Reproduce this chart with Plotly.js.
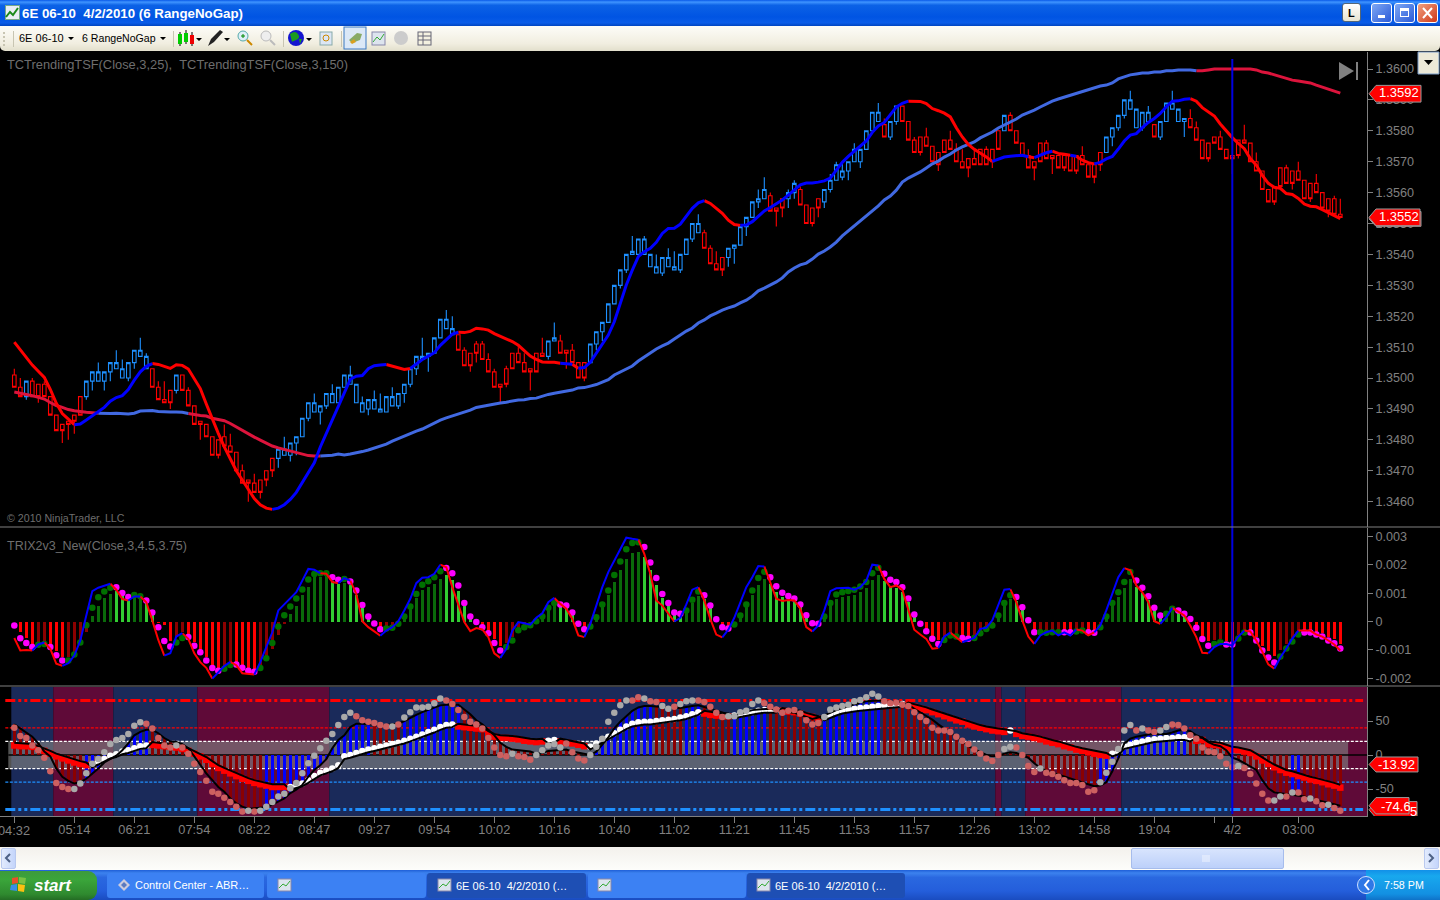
<!DOCTYPE html>
<html><head><meta charset="utf-8"><title>6E 06-10</title>
<script src="https://cdn.plot.ly/plotly-3.0.1.min.js"></script>
<style>
html,body{margin:0;padding:0;background:#000;overflow:hidden;width:1440px;height:900px}
.c{position:absolute}
#plot{position:absolute;left:0;top:0;width:1440px;height:900px;z-index:5}
</style></head><body>
<div class="c" style="left:0;top:0;width:1440px;height:26px;background:linear-gradient(#0a5ae8 0,#3f94ff 8%,#0c62e6 20%,#0054e3 65%,#0a5ce8 88%,#0044c0 100%)"></div>
<div class="c" style="left:0;top:26px;width:1440px;height:25px;background:linear-gradient(#fdfcf8,#f1eee0 70%,#e2dfcc);border-radius:0 0 5px 5px"></div>
<div class="c" style="left:3px;top:32px;width:2px;height:14px;border-left:2px dotted #c8c5b2"></div>
<div class="c" style="left:13px;top:31px;width:1px;height:16px;background:#c8c5b2"></div>
<div class="c" style="left:173px;top:31px;width:1px;height:16px;background:#c8c5b2"></div>
<div class="c" style="left:283px;top:31px;width:1px;height:16px;background:#c8c5b2"></div>
<div class="c" style="left:341px;top:31px;width:1px;height:16px;background:#c8c5b2"></div>
<svg class="c" style="left:0;top:26px" width="440" height="25">
<path d="M68 9h6l-3 3zM160 9h6l-3 3zM196 10h6l-3 3zM224 10h6l-3 3zM306 10h6l-3 3z" fill="#000" transform="translate(0,2)"/>
<g stroke="#000"><line x1="180" y1="6" x2="180" y2="20"/><line x1="186" y1="4" x2="186" y2="18"/><line x1="192" y1="6" x2="192" y2="20"/></g>
<rect x="178" y="8" width="4" height="10" fill="#0c0"/><rect x="184" y="7" width="4" height="9" fill="#0c0"/><rect x="190" y="9" width="4" height="9" fill="#e00"/>
<path d="M208 20l3-7 9-9 3 2-9 10z" fill="#222"/>
<circle cx="243" cy="10" r="5" fill="#dfeff8" stroke="#5aa"/><line x1="247" y1="14" x2="252" y2="19" stroke="#c80" stroke-width="2"/><path d="M241 10h4M243 8v4" stroke="#080"/>
<circle cx="266" cy="10" r="5" fill="#eee" stroke="#bbb"/><line x1="270" y1="14" x2="275" y2="19" stroke="#bbb" stroke-width="2"/>
<circle cx="296" cy="12" r="8" fill="#1414d0"/><path d="M290 8q5-4 8 0t-2 6t-4 2zM299 13l3 0 -2 5z" fill="#1c9c20"/>
<rect x="320" y="6" width="12" height="13" fill="#dce6f4" stroke="#8aa"/><circle cx="326" cy="12" r="3" fill="none" stroke="#c80"/>
<rect x="344" y="1" width="22" height="22" fill="#dbe8f7" stroke="#3a78c2"/><path d="M349 14l8-7 5 1-2 6-8 3z" fill="#8a6" /><path d="M350 16l4-3 2 3-4 2z" fill="#d9a020"/>
<rect x="372" y="6" width="13" height="13" fill="#dde4ee" stroke="#88a"/><path d="M373 16l4-5 3 3 4-6" stroke="#3a3" fill="none"/>
<circle cx="401" cy="12" r="7" fill="#ccc"/><rect x="418" y="6" width="13" height="13" fill="#f4f1e0" stroke="#667"/><path d="M418 10h13M418 14h13M423 6v13" stroke="#667"/>
</svg>
<svg class="c" style="left:5px;top:5px" width="15" height="15"><rect x=".5" y=".5" width="14" height="14" fill="#e8eef4" stroke="#7a8"/><path d="M1 12l4-5 3 3 5-7" stroke="#1a8a1a" stroke-width="2" fill="none"/></svg>
<div class="c" style="left:1342px;top:3px;width:19px;height:19px;background:linear-gradient(#fff,#e8e4d0);border:1px solid #567;border-radius:3px;box-sizing:border-box"></div>
<div class="c" style="left:1371px;top:3px;width:21px;height:20px;background:linear-gradient(135deg,#7ea8f4,#2a5ad8);border:1px solid #fff;border-radius:3px;box-sizing:border-box"></div>
<div class="c" style="left:1378px;top:15px;width:7px;height:3px;background:#fff"></div>
<div class="c" style="left:1394px;top:3px;width:21px;height:20px;background:linear-gradient(135deg,#7ea8f4,#2a5ad8);border:1px solid #fff;border-radius:3px;box-sizing:border-box"></div>
<div class="c" style="left:1400px;top:8px;width:9px;height:9px;border:1px solid #fff;border-top-width:3px;box-sizing:border-box"></div>
<div class="c" style="left:1417px;top:3px;width:21px;height:20px;background:linear-gradient(135deg,#f0a080,#d03818);border:1px solid #fff;border-radius:3px;box-sizing:border-box"></div>
<svg class="c" style="left:1417px;top:3px" width="21" height="20"><path d="M6 5l9 10M15 5l-9 10" stroke="#fff" stroke-width="2"/></svg>
<div class="c" style="left:0;top:847px;width:1440px;height:23px;background:linear-gradient(#f3f1ec,#fdfdfb)"></div>
<div class="c" style="left:1px;top:848px;width:15px;height:21px;background:linear-gradient(90deg,#e2ebfd,#c4d5fb);border:1px solid #b9c9ef;border-radius:2px;box-sizing:border-box"></div>
<div class="c" style="left:1131px;top:848px;width:153px;height:21px;background:linear-gradient(#d8e4fd,#bcd0fa);border:1px solid #a6bcec;border-radius:2px;box-sizing:border-box"></div>
<div class="c" style="left:1424px;top:848px;width:15px;height:21px;background:linear-gradient(90deg,#e2ebfd,#c4d5fb);border:1px solid #b9c9ef;border-radius:2px;box-sizing:border-box"></div>
<svg class="c" style="left:0;top:848px" width="1440" height="21"><path d="M10 6l-4 4 4 4" stroke="#4d6185" stroke-width="2" fill="none"/><path d="M1429 6l4 4-4 4" stroke="#4d6185" stroke-width="2" fill="none"/><path d="M1203 7v7M1205 7v7M1207 7v7M1209 7v7" stroke="#f0f4fe"/></svg>
<div class="c" style="left:0;top:870px;width:1440px;height:30px;background:linear-gradient(#1f5fd8 0,#3c82ee 10%,#2a68e0 25%,#245edb 70%,#1a4cc0 100%)"></div>
<div class="c" style="left:0;top:871px;width:97px;height:29px;background:linear-gradient(#3d9a3d,#3aa53a 30%,#2f8a2f 80%,#246c24);border-radius:0 9px 9px 0"></div>
<svg class="c" style="left:10px;top:876px" width="20" height="18"><path d="M2 2l6-1v6l-6 1z" fill="#e8502a"/><path d="M9 1l7 1-1 6-6-1z" fill="#7ac143"/><path d="M1 9l6-1v7l-7-1z" fill="#3a8ee6"/><path d="M8 8l7 1-1 7-6-1z" fill="#fbc011"/></svg>
<div class="c" style="left:107px;top:873px;width:157px;height:25px;background:#3c81f3;border-radius:3px"></div>
<div class="c" style="left:267px;top:873px;width:159px;height:25px;background:#3c81f3;border-radius:3px"></div>
<div class="c" style="left:427px;top:873px;width:159px;height:25px;background:#1e4fb4;border-radius:3px"></div>
<div class="c" style="left:588px;top:873px;width:158px;height:25px;background:#3c81f3;border-radius:3px"></div>
<div class="c" style="left:747px;top:873px;width:158px;height:25px;background:#1e4fb4;border-radius:3px"></div>
<div class="c" style="left:1366px;top:870px;width:74px;height:30px;background:linear-gradient(#1290e8,#18a8ee 20%,#1390e2 80%,#0f72c8)"></div>
<div class="c" style="left:1357px;top:876px;width:18px;height:18px;border-radius:50%;background:#2f78e6;border:1px solid #cfe0ff;box-sizing:border-box"></div>
<svg class="c" style="left:0;top:870px" width="1440" height="30"><path d="M1369 10l-4 5 4 5" stroke="#fff" stroke-width="2" fill="none"/><path d="M124 9l6 6-6 6-6-6z" fill="#ccd" /><path d="M124 12l3 3-3 3-3-3z" fill="#5a7ac0"/><g id="ic"><rect x="278" y="9" width="13" height="12" fill="#dde4ee" stroke="#88a"/><path d="M279 18l4-4 3 2 4-5" stroke="#3a3" fill="none"/><rect x="438" y="9" width="13" height="12" fill="#dde4ee" stroke="#88a"/><path d="M439 18l4-4 3 2 4-5" stroke="#3a3" fill="none"/><rect x="598" y="9" width="13" height="12" fill="#dde4ee" stroke="#88a"/><path d="M599 18l4-4 3 2 4-5" stroke="#3a3" fill="none"/><rect x="757" y="9" width="13" height="12" fill="#dde4ee" stroke="#88a"/><path d="M758 18l4-4 3 2 4-5" stroke="#3a3" fill="none"/></g></svg>
<div id="plot"></div>
<script>
// ---------- axis labels ----------
const priceTicks=[1.346,1.347,1.348,1.349,1.350,1.351,1.352,1.353,1.354,1.355,1.356,1.357,1.358,1.359,1.360];
const trixTicks=[0.003,0.002,0.001,0,-0.001,-0.002];
const trixTickText=['0.003','0.002','0.001','0','-0.001','-0.002'];
const cciTicks=[50,0,-50];
const cciTickText=['50','0','-50'];
const timeTickBars=[0,10,20,30,40,50,60,70,80,90,100,110,120,130,140,150,160,170,180,190,200,203,214];
const timeTickText=['04:32','05:14','06:21','07:54','08:22','08:47','09:27','09:54','10:02','10:16','10:40','11:02','11:21','11:45','11:53','11:57','12:26','13:02','14:58','19:04','','4/2','03:00'];

// ---------- candles, pips above 1.3000 ----------
const barTop=[501,497,499,499,498,498,494,488,485,486,
488,494,499,502,502,502,505,505,503,505,
509,509,507,503,497,493,496,501,501,496,
491,486,485,481,480,481,478,476,470,467,
466,467,470,474,477,477,479,481,487,492,
492,491,495,495,497,501,501,498,492,493,
493,490,494,494,495,498,503,507,507,508,
513,519,519,516,514,509,508,511,511,506,
502,498,503,508,508,505,503,508,508,512,
513,512,509,509,505,505,511,515,518,524,
530,535,540,541,545,545,540,536,539,539,
536,540,545,550,550,547,542,537,539,542,
543,549,552,557,558,561,559,555,558,560,
563,561,556,555,558,561,564,569,567,570,
574,574,580,586,586,582,583,588,588,583,
577,578,578,575,573,577,577,574,570,571,
571,574,574,574,580,585,585,580,576,572,
570,576,576,572,572,572,572,572,572,569,
569,573,578,581,585,590,590,587,586,586,
582,583,589,589,587,584,584,581,577,576,
578,578,574,572,577,577,576,570,567,561,
562,568,568,567,567,564,563,563,560,558,558,553];
const barBot=[497,494,494,494,494,494,488,483,483,485,
486,488,494,499,499,499,502,503,500,500,
505,507,503,497,493,492,492,496,496,491,
485,485,481,475,475,478,476,470,466,466,
463,463,467,470,474,475,475,479,481,487,
489,489,491,492,492,497,498,492,489,490,
490,489,489,491,491,495,498,503,506,507,
508,513,516,514,509,504,504,508,506,502,
497,497,498,503,505,502,502,502,507,507,
512,508,508,505,500,500,505,511,515,518,
524,530,535,540,540,540,536,534,534,536,
535,535,540,545,547,542,537,535,535,539,
542,543,549,552,557,558,554,554,555,558,
560,556,550,550,555,557,561,564,565,567,
570,570,574,580,583,578,578,583,583,577,
573,573,575,570,569,573,574,570,568,568,
569,569,569,570,574,580,580,576,572,568,
568,570,571,571,568,568,567,567,569,565,
565,569,573,578,581,585,587,581,581,583,
578,578,583,587,583,583,581,577,571,571,
576,574,571,571,572,576,570,567,561,557,
557,562,563,563,564,558,558,560,555,554,553,552];
const barHigh=[503,500,499,500,498,499,494,488,485,486,
488,494,499,502,505,502,505,509,506,505,
509,513,508,503,499,499,496,501,501,497,
491,486,485,481,480,485,482,476,472,467,
469,467,470,474,477,481,479,481,487,492,
495,491,495,498,497,501,504,498,494,493,
496,495,494,497,495,498,503,507,513,508,
513,519,522,520,514,510,508,512,512,508,
503,498,504,508,510,508,503,508,513,512,
518,514,509,511,505,505,511,515,518,524,
530,535,540,546,545,546,540,540,539,542,
541,540,545,550,553,548,543,541,539,542,
543,549,552,557,561,565,560,555,558,561,
564,562,556,555,558,561,566,570,570,570,
576,574,580,586,589,584,583,588,588,583,
578,578,581,575,573,577,580,576,574,571,
574,574,575,574,580,585,586,580,576,574,
570,576,577,572,572,572,572,572,575,569,
569,573,578,581,585,590,593,587,586,588,
582,583,589,593,587,584,587,583,577,576,
578,580,574,572,577,582,576,573,567,561,
562,568,569,567,570,564,563,566,560,558,559,558];
const barLow=[497,494,493,494,492,494,488,483,479,480,
482,488,493,496,499,496,499,503,500,499,
503,507,503,497,493,492,490,495,496,491,
485,480,481,475,474,478,476,470,466,460,
463,461,465,468,471,475,473,475,481,486,
489,485,490,492,492,497,498,492,489,488,
490,489,489,491,490,492,497,501,506,502,
508,513,516,514,509,504,502,505,506,502,
497,492,497,503,505,502,496,502,507,506,
512,508,503,505,500,499,505,509,512,518,
524,529,534,540,540,540,536,534,533,536,
535,534,540,544,547,542,537,535,533,536,
537,543,546,552,555,558,554,549,552,555,
558,556,550,549,552,555,560,564,564,564,
570,568,574,580,583,578,577,582,583,577,
573,572,575,570,567,573,574,570,568,565,
569,569,569,568,574,580,580,576,572,568,
564,570,571,566,568,567,567,566,569,565,
563,567,573,575,580,584,587,581,580,583,
578,577,583,587,583,578,581,577,571,570,
576,574,571,566,571,576,570,567,561,557,
556,562,563,561,564,558,557,560,555,552,553,552];
const barRisingToggles=[2,3,12,23,27,28,44,74,89,91,96,115,119,126,129,131,135,145,146,148,165,166,182,190,191,196];

// ---------- trend lines, pips above 1.3000 ----------
const tsf25=[511.6,509.2,506.9,504.2,502.2,500.2,496.3,491.8,488.5,486.6,
484.9,485.1,486.4,487.7,489.1,490.5,492.5,493.7,494.3,496.3,
499.3,502.0,503.8,504.7,504.4,503.8,503.1,504.3,504.1,502.9,
499.9,496.6,491.6,486.6,482.1,477.7,474,470,467,464,
461,459,457.9,457.5,457.9,459,460.7,463,466.1,469.3,
472.6,477.7,482.1,486.4,491.2,495.5,499.6,500.6,500.8,503,
504,504.2,504.4,503.8,503.2,502.8,503.1,504.7,506,507.1,
508.2,510.6,512.5,514.2,514.8,514.7,515.1,516.1,515.9,515.5,
514.4,513.5,512.5,511.8,510.6,509,507.1,506,505.2,505.1,
505.1,504.8,504.7,504.5,503.2,503.4,505.1,508,510.7,513.9,
518.2,524.2,530.1,534.9,539.3,540.9,542,543.9,546.8,548.4,
548.5,549.8,552.2,554.9,556.7,557.4,556.5,554.9,553.3,551.1,
549.7,549.4,549.5,550.6,552.2,554.1,555.2,556.5,557.6,559.2,
560.8,562.5,563.1,563.1,563.4,563.8,564.7,567.3,569.8,571.7,
573.3,575,576.7,579.5,581.6,582.7,585.1,587.7,588.9,589.6,
589.6,589.5,588.8,587.2,586.5,585.7,584.5,581,578,575.6,
574,572.8,571.5,570.1,570.7,571.5,571.8,572,572.1,571.6,
571.3,572.1,572.9,573.4,572.7,572.4,572.1,571.8,570.5,569.7,
569.3,569.8,570.9,571.7,574.1,576.7,578.6,579.1,581,582.7,
584,585.6,587.8,589.6,589.7,590.2,590.4,589.6,587.5,586,
584.8,582.2,579.9,577.8,575.9,574.2,571,568.9,565.6,563,
561.7,561.4,559.7,559.4,558.1,556.3,555.6,555.4,554.5,553.5,552.7,551.6];
const tsf25Toggles=[10,23,43,62,66,74,91,93,94,115,121,149,163,169,170,173,176,177,180,196];
const tsf150=[495.5,495,494.7,494.3,493.7,493.2,492.1,491.1,490.5,489.8,
489.4,489.1,488.9,488.8,488.6,488.5,488.5,488.6,488.5,488.4,
488.6,489.3,489.4,489.5,489.2,489,489,489,488.9,488.5,
488.1,487.9,487.7,487,486.6,486.2,485.3,484.2,483,481.8,
480.9,479.9,478.9,478,477.4,476.9,476.3,475.8,475.4,474.9,
474.8,474.8,474.8,475,475.4,475.1,475.4,475.7,476.2,476.7,
477.3,478,478.6,479.6,480.4,481.2,482.2,482.8,483.5,484.5,
485.4,486.4,487.1,487.7,488.3,489,489.6,490.5,490.9,491.3,
491.6,491.9,492.2,492.6,492.9,493,493.4,493.5,494.2,494.7,
495.1,495.5,495.8,496.1,496.8,496.9,497.4,497.9,498.7,499.5,
501,501.9,502.9,503.9,505.5,506.8,508.1,509.4,510.4,511.3,
512.6,513.9,515.2,516.2,517.8,518.8,520.1,521,522,522.7,
523.3,524.3,525.2,526.5,528.2,529.1,530.1,531.1,532.4,534.3,
535.6,536.6,537.2,538.5,540.1,541.1,542.4,544,546,547.6,
549.2,550.8,552.4,554,555.7,557.6,558.9,560.8,563.4,564.7,
565.7,566.7,568,569.3,570.2,571.5,572.5,573.8,574.8,575.7,
576.4,577.7,578.6,579.6,580.9,581.9,582.8,583.8,585.1,585.8,
586.7,587.7,588.7,589.6,590.3,590.9,591.6,592.2,592.9,593.5,
593.9,594.5,594.8,595.5,596.8,597.4,598.1,598.4,598.7,598.7,
599,599,599.4,599.4,599.7,599.7,599.7,599.4,599.4,599.7,
600,600,600,600,600,600,600,599.7,599,598.7,
598.1,597.7,597.1,596.4,596.1,595.8,595.5,594.8,594.2,593.5,592.9,592.2];
const tsf150Toggles=[14,29,51,197];

// ---------- TRIX panel, units of 0.00001 ----------
const trixLine=[-58,-102,-100,-102,-81,-74,-96,-149,-156,-147,
-120,-67,21,107,119,127,133,112,79,74,
88,88,68,4,-65,-120,-112,-53,-41,-61,
-112,-143,-163,-201,-178,-157,-142,-154,-182,-184,
-187,-143,-90,-38,39,60,83,103,144,185,
182,170,168,139,135,153,144,97,1,-20,
-35,-50,-32,-20,1,39,80,135,154,156,
168,200,191,121,62,-2,-34,-23,-28,-55,
-112,-128,-96,-32,-2,-6,-11,13,29,68,
83,62,45,9,-49,-55,-8,56,121,174,
215,256,295,291,288,238,168,74,56,27,
0,13,60,112,121,74,9,-46,-56,-29,
13,68,121,156,195,194,133,80,72,76,
74,45,-20,-35,-14,39,107,117,119,119,
112,121,144,200,197,150,121,127,112,45,
-29,-46,-61,-96,-93,-53,-39,-55,-73,-65,
-58,-26,-22,4,56,112,114,68,4,-53,
-79,-49,-38,-32,-49,-38,-49,-28,-32,-49,
-38,-14,39,97,156,188,180,127,103,68,
1,-8,15,48,33,21,-14,-55,-110,-112,
-90,-79,-79,-85,-53,-32,-35,-67,-106,-151,
-166,-127,-95,-60,-32,-32,-32,-46,-53,-67,-81,-102];
const trixLineToggles=[3,5,8,16,19,21,25,28,33,36,40,51,54,56,61,71,81,90,95,104,110,114,118,125,133,144,154,156,158,166,170,177,180,185,191,193,199,205,210,214];
const trixDots=[-14,-59,-76,-90,-82,-79,-90,-119,-137,-137,
-116,-74,-13,48,85,106,119,121,100,86,
93,89,74,32,-20,-69,-88,-74,-58,-55,
-85,-108,-137,-164,-173,-166,-153,-151,-163,-173,
-177,-164,-129,-76,-18,22,53,81,113,148,
167,170,170,156,147,150,141,109,58,18,
-7,-27,-25,-22,-8,18,53,97,129,142,
156,177,188,170,127,65,18,-2,-20,-41,
-76,-102,-90,-67,-31,-20,-13,1,18,48,
65,60,56,32,-8,-27,-18,15,60,109,
164,211,254,276,279,262,208,153,97,65,
32,27,39,77,106,92,56,8,-20,-25,
-11,21,60,109,153,175,156,124,101,90,
81,60,22,-6,-8,18,65,95,103,107,
112,123,139,170,189,168,147,139,121,81,
25,-8,-34,-61,-79,-65,-49,-53,-58,-61,
-58,-41,-26,-14,21,65,92,86,50,4,
-38,-38,-40,-38,-38,-38,-38,-35,-32,-38,
-40,-20,18,65,103,139,174,144,119,89,
48,21,27,45,39,27,9,-22,-62,-85,
-79,-73,-81,-81,-60,-39,-39,-67,-102,-127,
-144,-123,-95,-70,-46,-39,-39,-46,-53,-67,-77,-95];
const trixDotToggles=[4,6,9,17,20,22,27,29,35,37,41,53,55,56,62,72,82,91,96,105,112,115,120,126,135,145,155,158,160,167,171,175,177,179,181,187,192,194,200,202,204,206,211,215];
const trixHist=[0,-37,-59,-79,-73,-67,-79,-104,-126,-126,
-108,-67,-37,18,53,81,97,109,90,74,
92,86,65,27,-5,-14,-67,-53,-37,-43,
-73,-100,-126,-155,-163,-155,-143,-143,-155,-167,
-171,-155,-120,-96,-49,-8,27,56,92,123,
156,156,165,144,133,135,130,95,48,15,
-5,-20,-20,-15,-5,14,45,84,110,122,
133,150,165,145,108,55,14,-1,-15,-32,
-62,-85,-76,-55,-24,-15,-10,3,14,40,
54,50,46,26,-6,-20,-14,12,50,92,
140,180,220,240,243,228,180,130,82,55,
27,22,32,65,90,78,46,6,-15,-19,
-8,17,50,92,130,150,133,105,85,76,
68,50,18,-5,-6,14,54,80,88,90,
95,104,118,145,162,143,125,118,103,68,
20,-6,-26,-50,-66,-54,-40,-44,-48,-50,
-48,-33,-20,-11,17,54,78,73,42,3,
-30,-30,-32,-30,-30,-30,-30,-28,-26,-30,
-32,-15,14,55,88,118,148,122,100,75,
40,17,22,37,32,22,7,-16,-50,-70,
-65,-60,-67,-67,-48,-30,-30,-54,-85,-105,
-120,-102,-78,-57,-36,-30,-30,-36,-42,-54,-62,-78];

// ---------- oscillator panel ----------
const oscFast=[40,28,25,14,7,-4,-24,-41,-47,-50,
-50,-42,-27,-13,-6,4,16,22,25,31,
43,48,46,39,25,14,11,14,11,2,
-13,-25,-38,-54,-57,-63,-69,-76,-83,-82,
-83,-82,-76,-69,-61,-57,-49,-41,-27,-12,
-1,10,21,31,44,56,62,57,51,49,
47,44,42,42,45,55,63,70,70,71,
76,83,80,75,66,56,49,45,39,25,
11,0,-2,2,-2,-3,-7,0,7,14,
16,11,17,4,-5,-8,0,12,24,49,
62,73,80,80,85,83,79,78,72,68,
71,75,79,80,80,78,71,62,56,57,
57,63,65,75,80,76,71,67,62,65,
66,61,51,45,47,56,67,70,72,74,
79,81,85,90,86,79,76,77,74,72,
63,56,50,40,36,36,34,27,21,16,
8,2,-5,-9,0,9,12,11,0,-16,
-25,-20,-26,-28,-32,-37,-41,-41,-44,-54,
-52,-40,-26,-10,9,36,44,36,39,36,
34,36,41,45,44,39,29,24,11,5,
4,-2,-13,-18,-16,-19,-28,-42,-57,-67,
-67,-61,-61,-55,-55,-65,-64,-68,-74,-73,-78,-82];
const oscFastToggles=[10,22,27,28,39,40,41,57,63,64,65,72,83,84,87,92,96,103,105,106,108,110,111,114,119,125,135,145,165,167,171,172,181,187,188,189,191,193,204,205,210,212,213,214,216,217,219,220];
const oscMid=[45,39,34,27,17,5,-2,-20,-32,-38,
-42,-40,-35,-28,-20,-11,-6,-1,7,17,
29,34,37,37,32,25,20,19,16,10,
-2,-15,-27,-37,-47,-54,-64,-71,-76,-79,
-78,-78,-77,-73,-69,-64,-56,-51,-44,-32,
-22,-15,-6,10,22,29,41,46,46,45,
44,44,44,45,46,50,55,59,63,66,
69,73,74,74,74,67,60,51,45,37,
29,18,12,8,7,6,5,2,3,6,
7,8,8,5,3,1,0,5,16,26,
39,49,57,65,70,72,72,71,71,70,
69,69,71,72,73,71,68,65,62,60,
58,61,63,66,67,68,68,66,64,63,
62,59,56,53,55,58,62,66,69,72,
74,77,79,80,80,79,79,78,77,74,
68,63,58,52,45,39,32,26,21,13,
9,4,0,-2,-1,2,4,3,0,-4,
-12,-19,-23,-26,-29,-31,-34,-37,-41,-44,
-46,-45,-40,-24,-5,17,24,27,29,30,
31,31,31,33,36,37,35,29,25,19,
15,13,7,-4,-7,-12,-17,-22,-37,-49,
-55,-56,-57,-58,-59,-61,-64,-66,-69,-71,-73,-74.6];
const oscBarToggles=[12,23,42,60,65,75,96,107,112,115,120,126,135,145,181,196,213,215];
const oscSlow=[14,13,13,12,9,6,2,-2,-5,-8,
-11,-13,-15,-14,-10,-6,-1,1,5,7,
10,13,14,15,14,13,12,11,9,6,
2,-2,-7,-13,-19,-23,-27,-31,-35,-38,
-41,-43,-45,-47,-47,-47,-47,-45,-42,-37,
-31,-26,-23,-20,-15,-2,0,3,6,8,
10,12,14,16,18,21,24,27,30,34,
37,41,44,45,42,41,40,39,38,31,
27,25,25,24,23,21,20,19,20,21,
22,20,18,17,15,13,12,17,23,27,
32,37,42,46,48,49,49,50,51,52,
53,55,57,60,63,61,59,58,57,57,
58,60,62,63,65,66,66,66,65,64,
63,61,58,56,53,55,59,62,65,67,
68,69,70,71,72,73,74,74,75,73,
71,68,66,63,60,57,54,51,49,45,
42,40,38,36,35,34,36,31,28,27,
25,23,20,18,16,13,11,8,6,4,
2,0,-1,2,5,13,15,18,20,22,
23,24,25,25,26,26,24,21,22,16,
15,14,11,8,7,5,3,-2,-8,-13,
-18,-22,-26,-28,-31,-33,-36,-38,-40,-43,-45,-48];
const oscSlowToggles=[13,23,46,74,89,91,96,115,120,128,135,149,166,167,183,197];
const oscSlowEdge=[18,17,17,16,13,10,6,2,-1,-4,
-7,-9,-11,-18,-14,-10,-5,-3,1,3,
6,9,10,19,18,17,16,15,13,10,
6,2,-3,-9,-15,-19,-23,-27,-31,-34,
-37,-39,-41,-43,-43,-43,-51,-49,-46,-41,
-35,-30,-27,-24,-19,-6,-4,-1,2,4,
6,8,10,12,14,17,20,23,26,30,
33,37,40,41,46,45,44,43,42,35,
31,29,29,28,27,25,24,23,24,17,
18,24,22,21,19,17,8,13,19,23,
28,33,38,42,44,45,45,46,47,48,
49,51,53,56,59,65,63,62,61,61,
54,56,58,59,61,62,62,62,69,68,
67,65,62,60,57,51,55,58,61,63,
64,65,66,67,68,69,70,70,71,77,
75,72,70,67,64,61,58,55,53,49,
46,44,42,40,39,38,37,35,32,31,
29,27,24,22,20,17,15,12,10,8,
6,4,3,-2,1,9,11,14,16,18,
19,20,21,21,22,22,20,25,26,20,
19,18,15,12,11,9,7,2,-4,-9,
-14,-18,-22,-24,-27,-29,-32,-34,-36,-39,-41,-44];
const oscLevels=[80,40,20,-20,-40,-80];
const regimeEdges=[-0.5,6.5,16.5,30.5,52.5,163.5,164.5,168.5,184.5,203,225.45];

// ---------- helpers ----------
const N=barTop.length;
const idx=Array.from({length:N},(_,i)=>i);
const PX0=14.3,PXSTEP=6;
const xRange=[(0-PX0)/PXSTEP,(1367-PX0)/PXSTEP];
const price=p=>1.3+p/10000;
const trix=v=>v/100000;
const font='"Liberation Sans",Arial,sans-serif';
const GREY='#808080';
function flags(toggles){const f=[];let s=0,t=0;for(let i=0;i<N;i++){while(t<toggles.length&&toggles[t]===i){s=1-s;t++;}f.push(s);}return f;}
function segments(y,toggles,a,b,width,yaxis,name){
  const f=flags(toggles),out=[[],[]],xs=[[],[]];
  for(let i=0;i<N;i++){
    xs[f[i]].push(i);out[f[i]].push(y[i]);
    if(i+1<N&&f[i+1]!==f[i]){xs[f[i]].push(i+1,null);out[f[i]].push(y[i+1],null);}
  }
  return [0,1].map(k=>({type:'scatter',mode:'lines',name:name,x:xs[k],y:out[k],yaxis:yaxis,line:{color:k?b:a,width:width},hoverinfo:'skip',showlegend:false,connectgaps:false}));
}
function dots(y,toggles,a,b,size,yaxis,name,symA,symB){
  const f=flags(toggles);
  return [0,1].map(k=>{const xx=idx.filter(i=>f[i]===k);return {type:'scatter',mode:'markers',name:name,x:xx,y:xx.map(i=>y[i]),yaxis:yaxis,
    marker:{color:k?b:a,size:size,symbol:k?(symB||'circle'):(symA||'circle'),line:{width:0}},hoverinfo:'skip',showlegend:false,cliponaxis:false};});
}
const up=flags(barRisingToggles);
const dotUp=flags(trixDotToggles);
const barUp=flags(oscBarToggles);
function ann(text,x,y,o){o=o||{};const anchor=o.anchor||'left';return {text:text,xref:'paper',yref:'paper',x:(anchor==='left'?x-2:x)/1440,y:1-y/900,xanchor:anchor,yanchor:'middle',showarrow:false,
  font:{family:o.family||font,size:o.size||12,color:o.color||'#000',weight:o.weight||400,style:o.style||'normal'}};}

const traces=[
 {type:'candlestick',name:'6E 06-10',x:idx,yaxis:'y',
  open:idx.map(i=>price(up[i]?barBot[i]:barTop[i])),
  close:idx.map(i=>price(up[i]?barTop[i]:barBot[i])),
  high:barHigh.map(price),low:barLow.map(price),
  increasing:{line:{color:'#1e90ff',width:1.1},fillcolor:'rgba(0,0,0,0)'},
  decreasing:{line:{color:'#ff0000',width:1.1},fillcolor:'rgba(0,0,0,0)'},
  whiskerwidth:0,hoverinfo:'skip',showlegend:false},
 ...segments(tsf150.map(price),tsf150Toggles,'#dc143c','#4169e1',3,'y','TSF150'),
 ...segments(tsf25.map(price),tsf25Toggles,'#ff0000','#0000ff',3,'y','TSF25'),
 {type:'bar',name:'TRIX hist',x:idx,y:trixHist.map(trix),yaxis:'y2',width:0.5,hoverinfo:'skip',showlegend:false,
  marker:{line:{width:0},color:idx.map(i=>trixHist[i]>=0?(dotUp[i]?'#0a6a0a':'#32cd32'):(dotUp[i]?'#8b0000':'#ff0000'))}},
 ...dots(trixDots.map(trix),trixDotToggles,'#ff00ff','#007000',6.5,'y2','TRIX signal'),
 ...segments(trixLine.map(trix),trixLineToggles,'#ff0000','#0000ff',2,'y2','TRIX'),
 {type:'bar',name:'Oscillator',x:idx,y:oscMid,yaxis:'y3',width:0.42,hoverinfo:'skip',showlegend:false,
  marker:{line:{width:0},color:idx.map(i=>barUp[i]?'#0000ff':'#8b0000')}},
 ...dots(oscSlow,oscSlowToggles,'#ff0000','#ffffff',6.5,'y3','Slow','square','circle'),
 {type:'scatter',mode:'lines',name:'Slow edge',x:idx,y:oscSlowEdge,yaxis:'y3',line:{color:'#000',width:2},hoverinfo:'skip',showlegend:false},
 {type:'scatter',mode:'lines',name:'Mid',x:idx,y:oscMid,yaxis:'y3',line:{color:'#000',width:2},hoverinfo:'skip',showlegend:false},
 ...dots(oscFast,oscFastToggles,'#cd6060','#a9a9a9',6.5,'y3','Fast')
];

// ---------- shapes ----------
const shapes=[];
for(let k=0;k+1<regimeEdges.length;k++){
  shapes.push({type:'rect',layer:'below',xref:'x',yref:'y3',x0:regimeEdges[k],x1:regimeEdges[k+1],y0:-89.7,y1:100,line:{width:0},fillcolor:k%2?'#5f0a38':'#1a2a5a'});
}
shapes.push({type:'rect',layer:'below',xref:'x',yref:'y3',x0:-1,x1:222.3,y0:oscLevels[3],y1:oscLevels[2],line:{width:0},fillcolor:'rgba(128,128,128,0.64)'});
const lvlStyle=[['#ff0000',3,'10px,3px,3px,3px,3px,3px'],['#ff0000',1.2,'3px,1.5px'],['#ffffff',1.2,'3px,1.5px'],['#ffffff',1.2,'3px,1.5px'],['#1e90ff',1.2,'3px,1.5px'],['#1e90ff',3,'10px,3px,3px,3px,3px,3px']];
oscLevels.forEach((v,k)=>shapes.push({type:'line',layer:'below',xref:'x',yref:'y3',x0:-1.5,x1:k%5===0?224.8:225.45,y0:v,y1:v,line:{color:lvlStyle[k][0],width:lvlStyle[k][1],dash:lvlStyle[k][2]}}));
shapes.push({type:'line',layer:'below',xref:'x',yref:'y3',x0:-1,x1:225.45,y0:0,y1:0,line:{color:'#000',width:1.5}});
// cursor line on the 4/2 session bar
shapes.push({type:'line',layer:'above',xref:'x',yref:'paper',x0:203,x1:203,y0:1-814/900,y1:1-59/900,line:{color:'#0000e0',width:2}});
// pane separators
[527,686].forEach(y=>shapes.push({type:'line',layer:'above',xref:'paper',yref:'paper',x0:0,x1:1,y0:1-y/900,y1:1-y/900,line:{color:GREY,width:1}}));
function tag(val,yref,halfUnits,right){
  const x=p=>p/1440;const c=val;
  const d=`M${x(1369)},${c} L${x(1376)},${c+halfUnits} L${x(right)},${c+halfUnits} L${x(right)},${c-halfUnits} L${x(1376)},${c-halfUnits} Z`;
  shapes.push({type:'path',layer:'above',xref:'paper',yref:yref,path:d,fillcolor:'#ff0000',line:{color:'#9a9a9a',width:1}});
}
tag(1.35515,'y',0.00024,1421);
tag(1.3592,'y',0.00027,1421);
tag(1.3552,'y',0.00027,1420);
tag(-13.92,'y3',11,1418);
tag(-80.5,'y3',12,1417);
tag(-74.6,'y3',12,1409);
// go-to-end glyph and dropdown button
const pth=(pts)=>pts.map((p,i)=>(i?'L':'M')+p[0]/1440+','+(1-p[1]/900)).join(' ')+' Z';
shapes.push({type:'path',layer:'above',xref:'paper',yref:'paper',path:pth([[1339,62],[1339,80],[1354,71]]),fillcolor:GREY,line:{width:0}});
shapes.push({type:'rect',layer:'above',xref:'paper',yref:'paper',x0:1356/1440,x1:1358/1440,y0:1-80/900,y1:1-62/900,fillcolor:GREY,line:{width:0}});
shapes.push({type:'rect',layer:'above',xref:'paper',yref:'paper',x0:1418/1440,x1:1439/1440,y0:1-74/900,y1:1-52/900,fillcolor:'#ece9d8',line:{color:'#7a9cc8',width:1}});
shapes.push({type:'path',layer:'above',xref:'paper',yref:'paper',path:pth([[1424,60],[1433,60],[1428.5,65]]),fillcolor:'#000',line:{width:0}});

// ---------- text ----------
const annotations=[
 ann('TCTrendingTSF(Close,3,25),&nbsp;&nbsp;TCTrendingTSF(Close,3,150)',7,64,{size:12.85,color:'#6e6e6e'}),
 ann('TRIX2v3_New(Close,3,4.5,3.75)',7,546,{size:12.5,color:'#6e6e6e'}),
 ann('© 2010 NinjaTrader, LLC',7,518,{size:10.65,color:'#6e6e6e'}),
 ann('04:32',14.3,830,{anchor:'center',size:12.8,color:GREY}),
 ann('L',1351.5,13,{anchor:'center',size:11,weight:700}),
 ann('6E 06-10',19,38,{size:11}),
 ann('6 RangeNoGap',82,38,{size:10.6}),
 ann('1.3592',1379,92,{size:13,color:'#fff'}),
 ann('1.3552',1379,216.5,{size:13,color:'#fff'}),
 ann('-13.92',1378,764.5,{size:13,color:'#fff'}),
 ann('-74.6',1381,806,{size:13,color:'#fff'}),
 ann('5',1409.5,811,{size:13,color:'#fff'}),
 ann('start',34,885,{size:17,color:'#fff',weight:700,style:'italic'}),
 ann('Control Center - ABR…',135,885,{size:11,color:'#fff'}),
 ann('6E 06-10&nbsp;&nbsp;4/2/2010 (…',456,885.5,{size:11,color:'#fff'}),
 ann('6E 06-10&nbsp;&nbsp;4/2/2010 (…',775,885.5,{size:11,color:'#fff'}),
 ann('7:58 PM',1384,885,{size:10.7,color:'#fff'})
];

const baseY={showgrid:false,zeroline:false,side:'right',anchor:'x',showline:true,linecolor:GREY,linewidth:1,ticks:'outside',ticklen:5,tickcolor:GREY,tickfont:{family:font,size:12.6,color:GREY}};
const layout={
 width:1440,height:900,margin:{l:0,r:0,t:0,b:0},paper_bgcolor:'rgba(0,0,0,0)',plot_bgcolor:'#000',
 title:{text:'6E 06-10&nbsp;&nbsp;4/2/2010 (6 RangeNoGap)',x:22/1440,xanchor:'left',xref:'paper',y:1-13/900,yanchor:'middle',yref:'paper',font:{family:font,size:13.3,color:'#fff',weight:700}},
 showlegend:false,hovermode:false,bargap:0,barmode:'overlay',boxgap:0.15,
 xaxis:{domain:[0,1367/1440],range:xRange,anchor:'y3',showgrid:false,zeroline:false,showline:true,linecolor:GREY,linewidth:1,ticks:'outside',ticklen:6,tickcolor:GREY,ticklabelstandoff:-4,
   tickmode:'array',tickvals:timeTickBars,ticktext:timeTickText,tickfont:{family:font,size:12.8,color:GREY},rangeslider:{visible:false}},
 yaxis:Object.assign({},baseY,{domain:[1-527/900,1-52/900],range:[1.34518,1.36055],tickmode:'array',tickvals:priceTicks,tickformat:'.4f'}),
 yaxis2:Object.assign({},baseY,{domain:[1-686/900,1-528/900],range:[-0.002271,0.003292],tickmode:'array',tickvals:trixTicks,ticktext:trixTickText}),
 yaxis3:Object.assign({},baseY,{domain:[1-816/900,1-687/900],range:[-89.7,100],tickmode:'array',tickvals:cciTicks,ticktext:cciTickText}),
 shapes:shapes,annotations:annotations
};
Plotly.newPlot('plot',traces,layout,{staticPlot:true,displayModeBar:false,responsive:false});
</script>
</body></html>
